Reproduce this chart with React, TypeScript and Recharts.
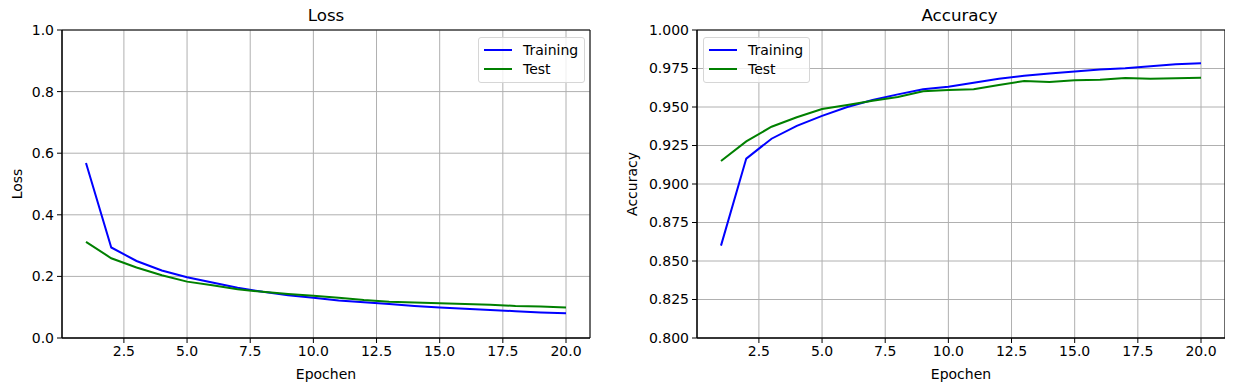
import React from 'react';
import { LineChart, Line, XAxis, YAxis, CartesianGrid, ReferenceArea } from 'recharts';

const epochs = [1, 2, 3, 4, 5, 6, 7, 8, 9, 10, 11, 12, 13, 14, 15, 16, 17, 18, 19, 20];
const lossTraining = [0.568, 0.294, 0.25, 0.219, 0.197, 0.18, 0.163, 0.15, 0.139, 0.131, 0.122, 0.116, 0.11, 0.104, 0.099, 0.095, 0.091, 0.087, 0.083, 0.08];
const lossTest = [0.312, 0.259, 0.229, 0.204, 0.183, 0.171, 0.158, 0.15, 0.143, 0.137, 0.131, 0.123, 0.118, 0.115, 0.113, 0.11, 0.108, 0.104, 0.102, 0.099];
const accTraining = [0.86, 0.9165, 0.9294, 0.9377, 0.9442, 0.95, 0.9545, 0.9582, 0.9615, 0.9632, 0.9658, 0.9684, 0.9703, 0.9718, 0.9731, 0.9744, 0.9752, 0.9765, 0.9778, 0.9784];
const accTest = [0.9149, 0.9277, 0.9372, 0.9433, 0.9487, 0.9513, 0.9541, 0.9565, 0.9602, 0.961, 0.9615, 0.9643, 0.9669, 0.9662, 0.9673, 0.9677, 0.9688, 0.9684, 0.9686, 0.969];

const xTicks = [2.5, 5, 7.5, 10, 12.5, 15, 17.5, 20];
const lossTicks = [0, 0.2, 0.4, 0.6, 0.8, 1.0];
const accTicks = [0.8, 0.825, 0.85, 0.875, 0.9, 0.925, 0.95, 0.975, 1.0];

const FONT = '"DejaVu Sans", sans-serif';
const BLUE = '#0000ff';
const GREEN = '#008000';
const X_DOMAIN: [number, number] = [0.05, 20.95];

const lossData = epochs.map((e, i) => ({ epoch: e, training: lossTraining[i], test: lossTest[i] }));
const accData = epochs.map((e, i) => ({ epoch: e, training: accTraining[i], test: accTest[i] }));

const tickStyle = { fill: '#000', fontSize: 14, fontFamily: FONT };

function LegendBox({ left }: { left: number }) {
  const row = (color: string, label: string) => (
    <div style={{ display: 'flex', alignItems: 'center', height: 19 }}>
      <div style={{ width: 28, height: 2, background: color, marginLeft: 5, marginRight: 11 }} />
      <span>{label}</span>
    </div>
  );
  return (
    <div
      style={{
        position: 'absolute',
        left,
        top: 37,
        width: 105,
        height: 42,
        border: '1px solid #d6d6d6',
        borderRadius: 3,
        background: 'rgba(255,255,255,0.8)',
        fontFamily: FONT,
        fontSize: 14,
        paddingTop: 2,
        boxSizing: 'content-box',
      }}
    >
      {row(BLUE, 'Training')}
      {row(GREEN, 'Test')}
    </div>
  );
}

function Panel({
  data,
  domain,
  ticks,
  digits,
  yLabel,
  yAxisWidth,
  rightMargin,
  yLabelX,
}: {
  data: any[];
  domain: [number, number];
  ticks: number[];
  digits: number;
  yLabel: string;
  yAxisWidth: number;
  rightMargin: number;
  yLabelX: number;
}) {
  const width = yAxisWidth + 528 + rightMargin;
  return (
    <LineChart width={width} height={391} data={data} margin={{ top: 30, right: rightMargin, bottom: 0, left: 0 }}>
      <CartesianGrid stroke="#b0b0b0" strokeWidth={1} />
      <XAxis
        dataKey="epoch"
        type="number"
        domain={X_DOMAIN}
        ticks={xTicks}
        tickFormatter={(v: number) => v.toFixed(1)}
        tick={tickStyle}
        tickSize={5}
        tickMargin={3}
        stroke="#000"
        height={53}
        label={{
          content: ({ viewBox }: any) => (
            <text x={viewBox.x + viewBox.width / 2} y={viewBox.y + 41} textAnchor="middle" fontSize={14} fontFamily={FONT} fill="#000">
              Epochen
            </text>
          ),
        }}
      />
      <YAxis
        type="number"
        domain={domain}
        ticks={ticks}
        allowDataOverflow
        tickFormatter={(v: number) => v.toFixed(digits)}
        tick={tickStyle}
        tickSize={5}
        tickMargin={3}
        stroke="#000"
        width={yAxisWidth}
        label={{
          content: ({ viewBox }: any) => {
            const cy = viewBox.y + viewBox.height / 2;
            return (
              <text x={yLabelX} y={cy} transform={`rotate(-90 ${yLabelX} ${cy})`} textAnchor="middle" dominantBaseline="central" fontSize={14} fontFamily={FONT} fill="#000">
                {yLabel}
              </text>
            );
          },
        }}
      />
      <Line dataKey="training" stroke={BLUE} strokeWidth={2} dot={false} isAnimationActive={false} />
      <Line dataKey="test" stroke={GREEN} strokeWidth={2} dot={false} isAnimationActive={false} />
      <ReferenceArea x1={X_DOMAIN[0]} x2={X_DOMAIN[1]} y1={domain[0]} y2={domain[1]} fill="none" fillOpacity={0} stroke="#000" strokeWidth={1} ifOverflow="visible" />
    </LineChart>
  );
}

export default function App() {
  return (
    <div style={{ position: 'relative', width: 1233, height: 391, margin: -8, background: '#fff', fontFamily: FONT }}>
      <div style={{ position: 'absolute', left: 0, top: 0 }}>
        <Panel data={lossData} domain={[0, 1]} ticks={lossTicks} digits={1} yLabel="Loss" yAxisWidth={62} rightMargin={30} yLabelX={17} />
      </div>
      <div style={{ position: 'absolute', left: 620, top: 0 }}>
        <Panel data={accData} domain={[0.8, 1]} ticks={accTicks} digits={3} yLabel="Accuracy" yAxisWidth={77} rightMargin={11} yLabelX={12} />
      </div>
      <div style={{ position: 'absolute', left: 62, width: 528, top: 5, textAlign: 'center', fontSize: 16.7, color: '#000' }}>Loss</div>
      <div style={{ position: 'absolute', left: 697, width: 525, top: 5, textAlign: 'center', fontSize: 16.7, color: '#000' }}>Accuracy</div>
      <LegendBox left={478} />
      <LegendBox left={703} />
    </div>
  );
}
